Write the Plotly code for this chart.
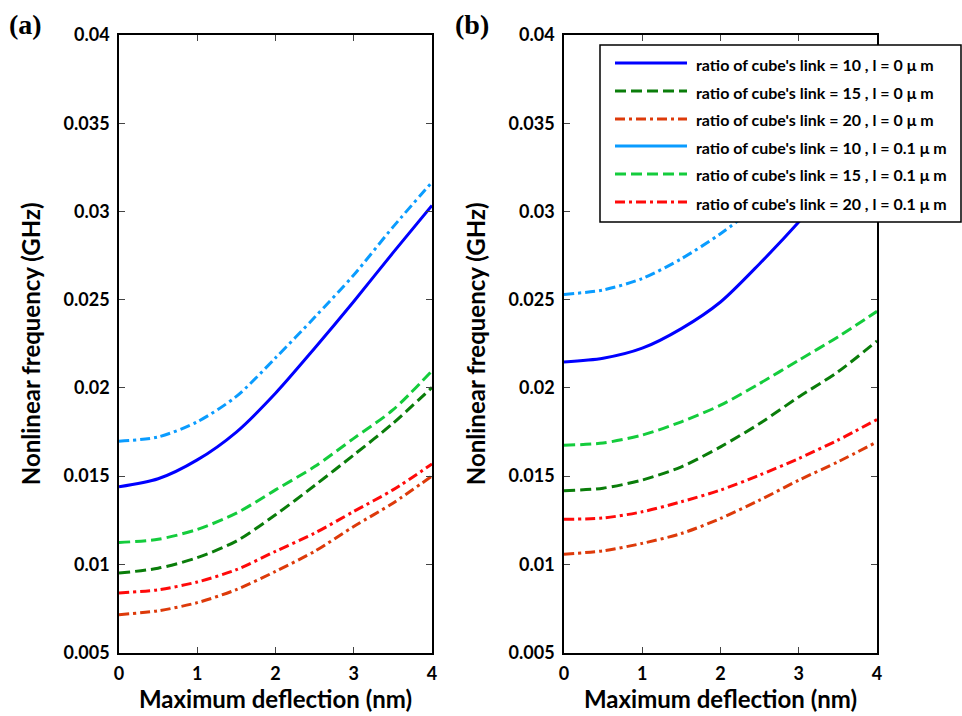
import plotly.graph_objects as go

x_defl = [0, 0.5, 1, 1.5, 2, 2.5, 3, 3.5, 4]

# Panel (a)
a_r10_l0 = [0.01440, 0.01485, 0.01592, 0.01750, 0.01970, 0.02225, 0.02490, 0.02765, 0.03034]
a_r15_l0 = [0.00951, 0.00978, 0.01038, 0.01132, 0.01281, 0.01447, 0.01620, 0.01799, 0.02003]
a_r20_l0 = [0.00715, 0.00737, 0.00783, 0.00857, 0.00960, 0.01074, 0.01215, 0.01347, 0.01501]
a_r10_l01 = [0.01698, 0.01722, 0.01808, 0.01952, 0.02170, 0.02400, 0.02640, 0.02911, 0.03166]
a_r15_l01 = [0.01124, 0.01142, 0.01198, 0.01290, 0.01422, 0.01554, 0.01714, 0.01875, 0.02097]
a_r20_l01 = [0.00838, 0.00856, 0.00900, 0.00970, 0.01074, 0.01177, 0.01300, 0.01422, 0.01569]

# Panel (b)
b_r10_l0 = [0.02147, 0.02168, 0.02225, 0.02336, 0.02487, 0.02704, 0.02940, 0.03200, 0.03480]
b_r15_l0 = [0.01417, 0.01432, 0.01478, 0.01553, 0.01666, 0.01798, 0.01949, 0.02091, 0.02266]
b_r20_l0 = [0.01058, 0.01077, 0.01119, 0.01175, 0.01260, 0.01364, 0.01477, 0.01581, 0.01694]
b_r10_l01 = [0.02530, 0.02555, 0.02620, 0.02732, 0.02874, 0.03044, 0.03234, 0.03444, 0.03664]
b_r15_l01 = [0.01675, 0.01688, 0.01733, 0.01808, 0.01902, 0.02025, 0.02157, 0.02289, 0.02434]
b_r20_l01 = [0.01255, 0.01263, 0.01298, 0.01355, 0.01421, 0.01506, 0.01600, 0.01704, 0.01821]

legend_names = [
    "ratio of cube's link = 10 , l = 0 μ m",
    "ratio of cube's link = 15 , l = 0 μ m",
    "ratio of cube's link = 20 , l = 0 μ m",
    "ratio of cube's link = 10 , l = 0.1 μ m",
    "ratio of cube's link = 15 , l = 0.1 μ m",
    "ratio of cube's link = 20 , l = 0.1 μ m",
]
x_ticks = [0, 1, 2, 3, 4]
y_ticks = [0.005, 0.01, 0.015, 0.02, 0.025, 0.03, 0.035, 0.04]
y_tick_text = ["0.005", "0.01", "0.015", "0.02", "0.025", "0.03", "0.035", "0.04"]

DASH = "11px,5px"
DASHDOT = "10px,4px,3px,4px"
colors = ["#0000FF", "#0A7D0A", "#DD3A0A", "#0A9CFF", "#14CC3C", "#FF0A0A"]
plot_dash = ["solid", DASH, DASHDOT, DASHDOT, DASH, DASHDOT]
legend_dash = ["solid", DASH, DASHDOT, "solid", DASH, DASHDOT]

fig = go.Figure()
panels = [
    ("x", "y", [a_r10_l0, a_r15_l0, a_r20_l0, a_r10_l01, a_r15_l01, a_r20_l01]),
    ("x2", "y2", [b_r10_l0, b_r15_l0, b_r20_l0, b_r10_l01, b_r15_l01, b_r20_l01]),
]
for xa, ya, series in panels:
    for i, ys in enumerate(series):
        fig.add_trace(go.Scatter(
            x=x_defl, y=ys, xaxis=xa, yaxis=ya, mode="lines",
            line=dict(color=colors[i], dash=plot_dash[i], width=3, shape="spline", smoothing=0.8),
            showlegend=False, name=legend_names[i]))

W, H = 962, 716
def px(xp):
    return xp / W
def py(yp):
    return 1 - yp / H

# Legend box drawn over panel (b)
shapes = [dict(type="rect", xref="paper", yref="paper",
               x0=px(600), x1=px(961), y0=py(222), y1=py(45),
               fillcolor="white", line=dict(color="black", width=1.5), layer="above")]
annotations = []
row_y = [63, 91, 119, 146, 174, 202]
for i, nm in enumerate(legend_names):
    shapes.append(dict(type="line", xref="paper", yref="paper",
                       x0=px(615), x1=px(687), y0=py(row_y[i]), y1=py(row_y[i]),
                       line=dict(color=colors[i], dash=legend_dash[i], width=3), layer="above"))
    annotations.append(dict(text=nm, x=px(694), y=py(row_y[i] + 1), xref="paper", yref="paper",
                            xanchor="left", yanchor="middle", showarrow=False,
                            font=dict(family="Lato", size=16, color="black", weight="bold")))

annotations += [
    dict(text="(a)", x=px(25), y=py(25), xref="paper", yref="paper", showarrow=False,
         xanchor="center", yanchor="middle",
         font=dict(family="Liberation Serif", size=28, color="black", weight="bold")),
    dict(text="(b)", x=px(472), y=py(25), xref="paper", yref="paper", showarrow=False,
         xanchor="center", yanchor="middle",
         font=dict(family="Liberation Serif", size=28, color="black", weight="bold")),
]

tickfont = dict(family="Lato", size=18, color="black", weight="bold")
titlefont = dict(family="Lato", size=24, color="black", weight="bold")
ydom = [py(652.6), py(35)]

axis_common = dict(
    showgrid=False, zeroline=False, showline=True, linecolor="black", linewidth=1.5,
    mirror="ticks", ticks="inside", ticklen=6, tickwidth=1, tickcolor="#444",
    tickfont=tickfont, automargin=False,
)

fig.update_layout(
    width=W, height=H,
    margin=dict(l=0, r=0, t=0, b=0, autoexpand=False),
    paper_bgcolor="white", plot_bgcolor="white",
    xaxis=dict(domain=[px(119), px(432)], range=[0, 4], tickvals=x_ticks, anchor="y",
               ticklabelstandoff=4,
               title=dict(text="Maximum deflection (nm)", font=titlefont, standoff=4), **axis_common),
    yaxis=dict(domain=ydom, range=[0.005, 0.04], tickvals=y_ticks, ticktext=y_tick_text, anchor="x",
               ticklabelstandoff=4,
               title=dict(text="Nonlinear frequency (GHz)", font=titlefont, standoff=16), **axis_common),
    xaxis2=dict(domain=[px(564), px(877)], range=[0, 4], tickvals=x_ticks, anchor="y2",
                ticklabelstandoff=4,
                title=dict(text="Maximum deflection (nm)", font=titlefont, standoff=4), **axis_common),
    yaxis2=dict(domain=ydom, range=[0.005, 0.04], tickvals=y_ticks, ticktext=y_tick_text, anchor="x2",
                ticklabelstandoff=4,
                title=dict(text="Nonlinear frequency (GHz)", font=titlefont, standoff=16), **axis_common),
    showlegend=False,
    shapes=shapes,
    annotations=annotations,
)

fig.write_html("out.html")
